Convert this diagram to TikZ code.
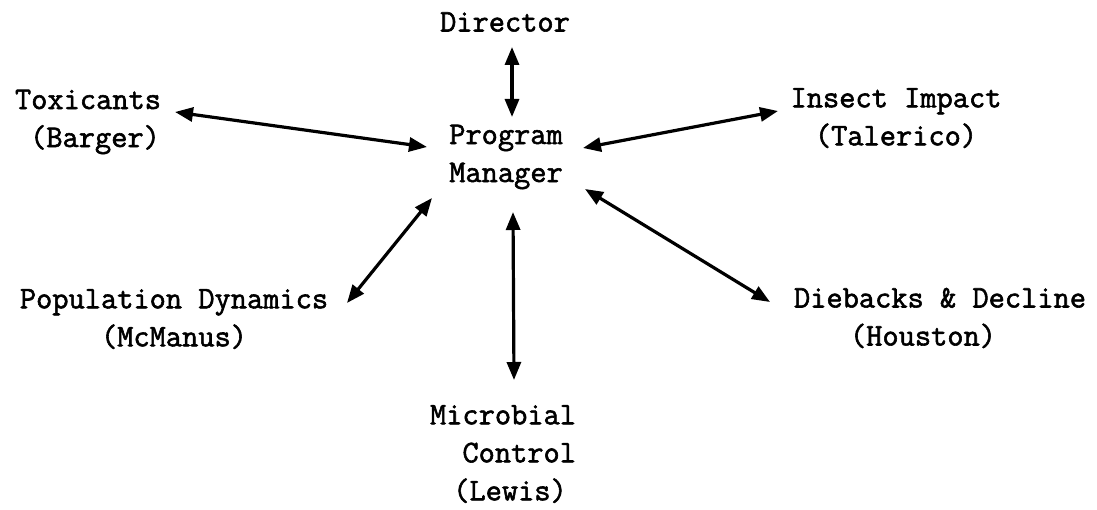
\documentclass[tikz,border=0pt]{standalone}
\usepackage{fontspec}
\setmainfont[FakeBold=1.8]{Latin Modern Mono}
\usetikzlibrary{arrows.meta}
\begin{document}
\begin{tikzpicture}[x=1pt,y=-1pt,
  lbl/.style={inner sep=0pt,align=center,font=\fontsize{31.5}{38}\selectfont},
  link/.style={{Triangle[length=18pt,width=14pt]}-{Triangle[length=18pt,width=14pt]},line width=3.2pt}]
\useasboundingbox (0,0) rectangle (1097,510);
% units
\node[lbl] (dir) at (505,22) {Director};
\node[lbl] (pm)  at (506,157) {Program\\Manager};
\node[lbl] (tox) at (88,122) {Toxicants\\\hspace*{14pt}(Barger)};
\node[lbl] (ins) at (896,118) {Insect Impact\\(Talerico)};
\node[lbl] (pd)  at (174,319) {Population Dynamics\\(McManus)};
\node[lbl] (dd)  at (940,318) {Diebacks \& Decline\\(Houston)\hspace*{34pt}};
\node[lbl] (mic) at (503,454) {Microbial\\\hphantom{Mi}Control\\\hspace*{14pt}(Lewis)};
% two-way links to the program manager
\draw[link] ([shift={(7,25)}]dir.center) -- ([shift={(6,-40)}]pm.center);
\draw[link] ([shift={(87,-10)}]tox.center) -- ([shift={(-79,-10)}]pm.center);
\draw[link] ([shift={(-118,-7)}]ins.center) -- ([shift={(77,-9)}]pm.center);
\draw[link] ([shift={(173,-16)}]pd.center) -- ([shift={(-74,41)}]pm.center);
\draw[link] ([shift={(-170,-16)}]dd.center) -- ([shift={(79,32)}]pm.center);
\draw[link] ([shift={(11,-74)}]mic.center) -- ([shift={(7,55)}]pm.center);
\end{tikzpicture}
\end{document}
